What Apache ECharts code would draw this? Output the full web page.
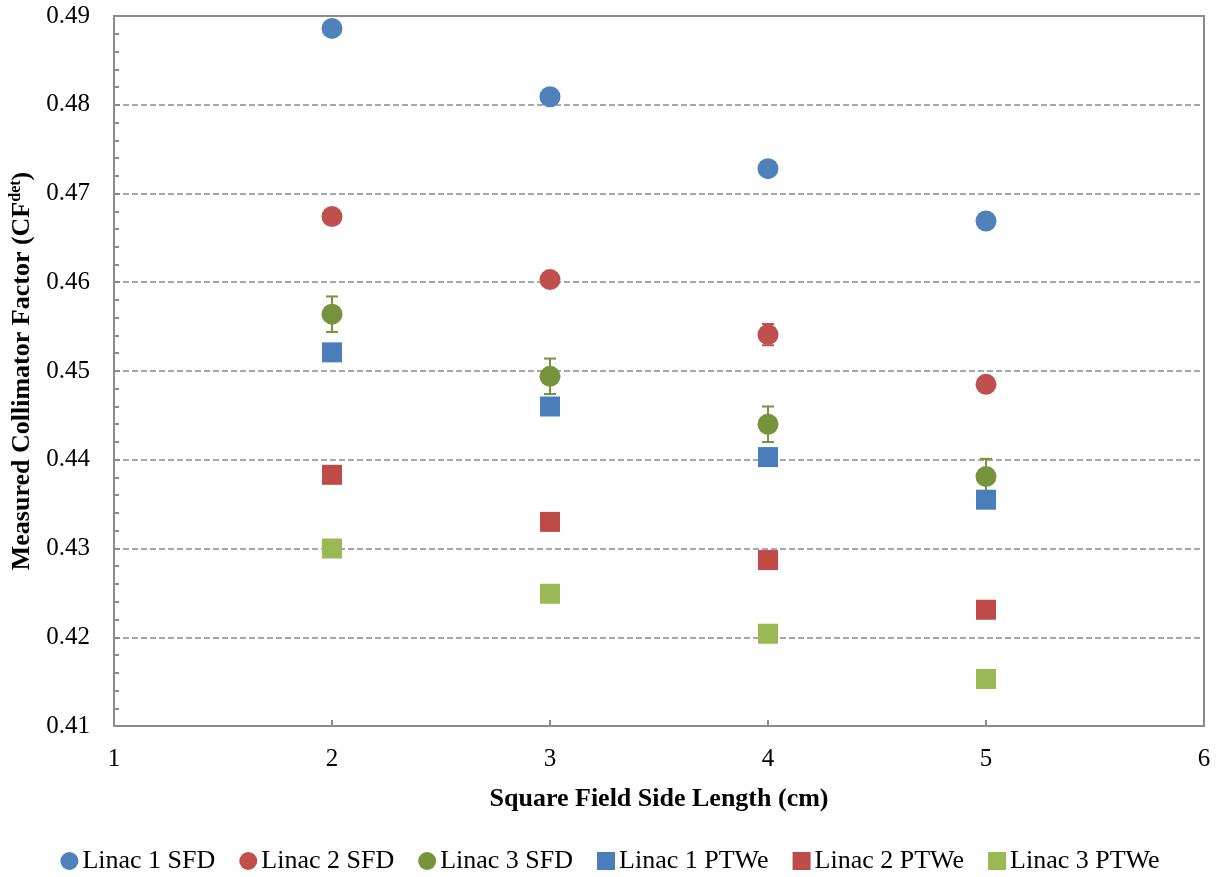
<!DOCTYPE html>
<html>
<head>
<meta charset="utf-8">
<script src="https://cdn.jsdelivr.net/npm/echarts@6/dist/echarts.min.js"></script>
<style>
  html, body { margin: 0; padding: 0; background: #fff; }
  #chart { width: 1220px; height: 877px; }
</style>
</head>
<body>
<div id="chart"></div>
<script>
// Square field side length (cm)
const fieldSizes = [2, 3, 4, 5];

// Measured collimator factors per linac / detector
const linac1SFD  = [0.4886, 0.4809, 0.4728, 0.4669];
const linac2SFD  = [0.4674, 0.4603, 0.4541, 0.4485];
const linac3SFD  = [0.4564, 0.4494, 0.4440, 0.4381];
const linac1PTWe = [0.4521, 0.4460, 0.4403, 0.4355];
const linac2PTWe = [0.4383, 0.4330, 0.4287, 0.4231];
const linac3PTWe = [0.4300, 0.4249, 0.4204, 0.4153];

// Uncertainty (±) on the SFD measurements
const linac2SFDErr = [0, 0, 0.0012, 0];
const linac3SFDErr = [0.002, 0.002, 0.002, 0.002];

const yTicks = [0.41, 0.42, 0.43, 0.44, 0.45, 0.46, 0.47, 0.48, 0.49];
const xTicks = [1, 2, 3, 4, 5, 6];

const FONT = '"Liberation Serif", "Times New Roman", serif';
const AXIS_GREY = '#8c8c8c';

const pairs = (vals) => fieldSizes.map((x, i) => [x, vals[i]]);

function errorSeries(vals, errs, color) {
  return {
    type: 'custom',
    silent: true,
    z: 1,
    data: fieldSizes.map((x, i) => [x, vals[i], errs[i]]).filter(d => d[2] > 0),
    renderItem: (params, api) => {
      const x = api.value(0), y = api.value(1), e = api.value(2);
      const top = api.coord([x, y + e]);
      const bot = api.coord([x, y - e]);
      const half = 6;
      const style = { stroke: color, lineWidth: 2 };
      return {
        type: 'group',
        children: [
          { type: 'line', shape: { x1: top[0], y1: top[1], x2: bot[0], y2: bot[1] }, style },
          { type: 'line', shape: { x1: top[0] - half, y1: top[1], x2: top[0] + half, y2: top[1] }, style },
          { type: 'line', shape: { x1: bot[0] - half, y1: bot[1], x2: bot[0] + half, y2: bot[1] }, style }
        ]
      };
    }
  };
}

function scatter(name, vals, symbol, color) {
  return {
    name, type: 'scatter', z: 3,
    symbol, symbolSize: symbol === 'circle' ? 21 : 20,
    itemStyle: { color, opacity: 1 },
    data: pairs(vals)
  };
}

const chart = echarts.init(document.getElementById('chart'), null, { renderer: 'canvas' });

chart.setOption({
  animation: false,
  backgroundColor: '#fff',
  grid: {
    left: 114, right: 16, top: 16, bottom: 151,
    outerBoundsMode: 'none', containLabel: false,
    show: true, borderColor: AXIS_GREY, borderWidth: 2, backgroundColor: 'transparent'
  },
  legend: {
    top: 843, left: 'center',
    itemWidth: 18, itemHeight: 18, itemGap: 24,
    textStyle: { fontFamily: FONT, fontSize: 26, color: '#000', padding: [0, 0, 0, -1] },
    data: [
      { name: 'Linac 1 SFD', icon: 'circle' },
      { name: 'Linac 2 SFD', icon: 'circle' },
      { name: 'Linac 3 SFD', icon: 'circle' },
      { name: 'Linac 1 PTWe', icon: 'rect' },
      { name: 'Linac 2 PTWe', icon: 'rect' },
      { name: 'Linac 3 PTWe', icon: 'rect' }
    ]
  },
  xAxis: {
    type: 'value', min: xTicks[0], max: xTicks[xTicks.length - 1], interval: 1,
    name: 'Square Field Side Length (cm)', nameLocation: 'middle', nameGap: 60,
    nameTextStyle: { fontFamily: FONT, fontSize: 26, fontWeight: 'bold', color: '#000' },
    axisLine: { lineStyle: { color: AXIS_GREY, width: 2 } },
    axisTick: { inside: true, length: 6, lineStyle: { color: AXIS_GREY, width: 2 } },
    axisLabel: { fontFamily: FONT, fontSize: 25, color: '#000', margin: 21 },
    splitLine: { show: false }
  },
  yAxis: {
    type: 'value', min: yTicks[0], max: yTicks[yTicks.length - 1], interval: 0.01,
    name: '{t|Measured Collimator Factor (CF}{sup|det}{t|)}',
    nameLocation: 'middle', nameGap: 76,
    nameTextStyle: {
      rich: {
        t: { fontFamily: FONT, fontSize: 26, fontWeight: 'bold', color: '#000' },
        sup: { fontFamily: FONT, fontSize: 16, fontWeight: 'bold', color: '#000', verticalAlign: 'top', padding: [0, 0, 12, 0] }
      }
    },
    axisLine: { show: true, lineStyle: { color: AXIS_GREY, width: 2 } },
    axisTick: { show: true, inside: true, length: 6, lineStyle: { color: AXIS_GREY, width: 2 } },
    minorTick: { show: true, splitNumber: 5, length: 5, lineStyle: { color: AXIS_GREY, width: 2 } },
    axisLabel: {
      fontFamily: FONT, fontSize: 25, color: '#000', margin: 24,
      formatter: v => v.toFixed(2)
    },
    splitLine: { show: true, lineStyle: { color: '#8c8c8c', width: 1.5, type: [6, 3] } }
  },
  series: [
    errorSeries(linac3SFD, linac3SFDErr, '#77933C'),
    errorSeries(linac2SFD, linac2SFDErr, '#C0504D'),
    scatter('Linac 1 SFD', linac1SFD, 'circle', '#4F81BD'),
    scatter('Linac 2 SFD', linac2SFD, 'circle', '#C0504D'),
    scatter('Linac 3 SFD', linac3SFD, 'circle', '#77933C'),
    scatter('Linac 1 PTWe', linac1PTWe, 'rect', '#4A7EBB'),
    scatter('Linac 2 PTWe', linac2PTWe, 'rect', '#BE4B48'),
    scatter('Linac 3 PTWe', linac3PTWe, 'rect', '#98B954')
  ]
});
</script>
</body>
</html>
